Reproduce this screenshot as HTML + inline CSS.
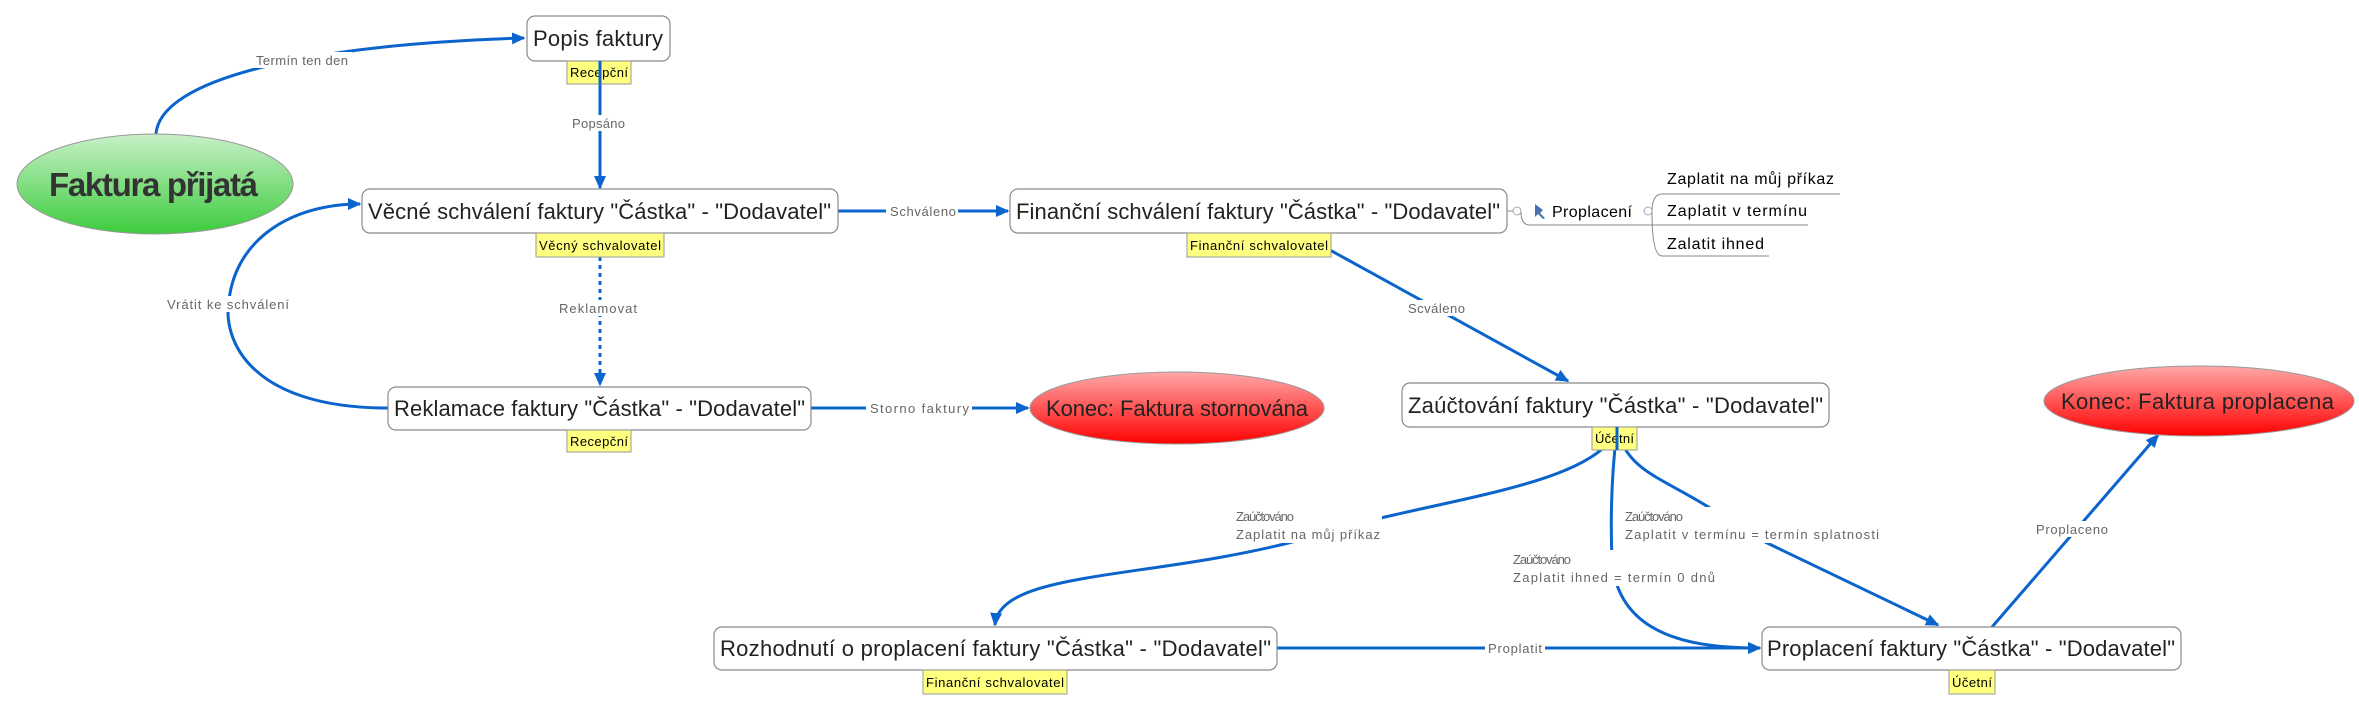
<!DOCTYPE html>
<html><head><meta charset="utf-8"><style>
html,body{margin:0;padding:0;background:#fff;width:2359px;height:710px;overflow:hidden}
svg{display:block}
.n{font-family:"Liberation Sans",sans-serif;font-size:22px;fill:#222}
.r{font-family:"Liberation Sans",sans-serif;font-size:13px;fill:#000}
.l{font-family:"Liberation Sans",sans-serif;font-size:13px;fill:#666}
.box{fill:#fff;stroke:#8a8a8a;stroke-width:1.2}
.role{fill:#ffff80;stroke:#999;stroke-width:1}
.c{fill:none;stroke:#0a64cc;stroke-width:3}
</style></head><body>
<svg width="2359" height="710" viewBox="0 0 2359 710" xmlns="http://www.w3.org/2000/svg">
<defs>
<marker id="a" markerWidth="4.5" markerHeight="4" refX="4" refY="2" orient="auto" markerUnits="strokeWidth"><path d="M0,0 L4.5,2 L0,4 z" fill="#0a64cc"/></marker>
<linearGradient id="g" x1="0" y1="0" x2="0" y2="1"><stop offset="0" stop-color="#c8f0c8"/><stop offset="1" stop-color="#3ccc3c"/></linearGradient>
<linearGradient id="rd" x1="0" y1="0" x2="0" y2="1"><stop offset="0" stop-color="#ffa8a8"/><stop offset="1" stop-color="#ff0000"/></linearGradient>
</defs>

<!-- connectors -->
<path class="c" d="M156,134 C160,80 300,45 524,38" marker-end="url(#a)"/>
<path class="c" d="M600,61 L600,188" marker-end="url(#a)"/>
<path class="c" d="M600,257 L600,385" stroke-dasharray="4,4" stroke-width="2.5" marker-end="url(#a)"/>
<path class="c" d="M388,408 C250,408 222,340 229,300 C236,240 290,204 360,204" marker-end="url(#a)"/>
<path class="c" d="M838,211 L1008,211" marker-end="url(#a)"/>
<path class="c" d="M811,408 L1028,408" marker-end="url(#a)"/>
<path class="c" d="M1299,233 L1568,381" marker-end="url(#a)"/>
<path class="c" d="M1617,430 C1590,490 1420,500 1300,540 C1150,580 1000,570 995,625" marker-end="url(#a)"/>
<path class="c" d="M1617,430 C1612,470 1610,510 1612,560 C1618,640 1700,648 1760,648" marker-end="url(#a)"/>
<path class="c" d="M1617,430 C1630,480 1680,480 1740,530 L1938,625" marker-end="url(#a)"/>
<path class="c" d="M1277,648 L1760,648" marker-end="url(#a)"/>
<path class="c" d="M1992,627 L2158,435" marker-end="url(#a)"/>

<!-- Proplacení branch -->
<g fill="none" stroke="#888" stroke-width="1">
<line x1="1507" y1="211" x2="1515" y2="211"/>
<path d="M1521,212 Q1521,225 1530,225 L1652,225"/>
<path d="M1652,212 Q1652,194 1662,194 L1840,194"/>
<line x1="1652" y1="225" x2="1808" y2="225"/>
<path d="M1652,212 Q1652,256 1662,256 L1769,256"/>
</g>
<circle cx="1517" cy="211" r="4" fill="#fff" stroke="#9ab" />
<circle cx="1648" cy="211" r="4" fill="#fff" stroke="#9ab"/>
<path d="M1535,204 l8,6 l-3,3 l5,5 l-2,1 l-5,-5 l-3,3 z" fill="#4a70b0"/>
<text class="r" x="1552" y="217" style="font-size:16px" textLength="80">Proplacení</text>
<text class="r" x="1667" y="184" style="font-size:16px" textLength="167">Zaplatit na můj příkaz</text>
<text class="r" x="1667" y="216" style="font-size:16px" textLength="140">Zaplatit v termínu</text>
<text class="r" x="1667" y="249" style="font-size:16px" textLength="97">Zalatit ihned</text>

<!-- edge labels -->
<g>
<rect x="252" y="52" width="100" height="16" fill="#fff"/><text class="l" x="256" y="65" textLength="92">Termín ten den</text>
<rect x="568" y="115" width="60" height="16" fill="#fff"/><text class="l" x="572" y="128" textLength="53">Popsáno</text>
<rect x="556" y="300" width="84" height="16" fill="#fff"/><text class="l" x="559" y="313" textLength="78">Reklamovat</text>
<rect x="164" y="296" width="128" height="16" fill="#fff"/><text class="l" x="167" y="309" textLength="122">Vrátit ke schválení</text>
<rect x="886" y="203" width="72" height="16" fill="#fff"/><text class="l" x="890" y="216" textLength="66">Schváleno</text>
<rect x="866" y="400" width="106" height="16" fill="#fff"/><text class="l" x="870" y="413" textLength="99">Storno faktury</text>
<rect x="1404" y="300" width="64" height="16" fill="#fff"/><text class="l" x="1408" y="313" textLength="57">Scváleno</text>
<rect x="1232" y="507" width="150" height="36" fill="#fff"/><text class="l" x="1236" y="521" textLength="58">Zaúčtováno</text><text class="l" x="1236" y="539" textLength="144">Zaplatit na můj příkaz</text>
<rect x="1621" y="507" width="262" height="36" fill="#fff"/><text class="l" x="1625" y="521" textLength="58">Zaúčtováno</text><text class="l" x="1625" y="539" textLength="254">Zaplatit v termínu = termín splatnosti</text>
<rect x="1509" y="550" width="210" height="36" fill="#fff"/><text class="l" x="1513" y="564" textLength="58">Zaúčtováno</text><text class="l" x="1513" y="582" textLength="202">Zaplatit ihned = termín 0 dnů</text>
<rect x="1485" y="640" width="60" height="16" fill="#fff"/><text class="l" x="1488" y="653" textLength="54">Proplatit</text>
<rect x="2032" y="521" width="80" height="16" fill="#fff"/><text class="l" x="2036" y="534" textLength="72">Proplaceno</text>
</g>

<!-- ellipses -->
<ellipse cx="155" cy="184" rx="138" ry="50" fill="url(#g)" stroke="#999"/>
<text x="49" y="196" font-family="Liberation Sans,sans-serif" font-size="33" font-weight="bold" fill="#333" textLength="209">Faktura přijatá</text>
<ellipse cx="1177" cy="408" rx="147" ry="36" fill="url(#rd)" stroke="#999"/>
<text class="n" x="1046" y="416" textLength="262">Konec: Faktura stornována</text>
<ellipse cx="2199" cy="401" rx="155" ry="35" fill="url(#rd)" stroke="#999"/>
<text class="n" x="2061" y="409" textLength="273">Konec: Faktura proplacena</text>

<!-- boxes -->
<rect class="box" x="527" y="16" width="143" height="45" rx="8"/>
<text class="n" x="533" y="46" textLength="130">Popis faktury</text>
<rect class="box" x="362" y="189" width="476" height="44" rx="8"/>
<text class="n" x="368" y="219" textLength="463">Věcné schválení faktury "Částka" - "Dodavatel"</text>
<rect class="box" x="388" y="387" width="423" height="43" rx="8"/>
<text class="n" x="394" y="416" textLength="411">Reklamace faktury "Částka" - "Dodavatel"</text>
<rect class="box" x="1010" y="189" width="497" height="44" rx="8"/>
<text class="n" x="1016" y="219" textLength="484">Finanční schválení faktury "Částka" - "Dodavatel"</text>
<rect class="box" x="1402" y="383" width="427" height="44" rx="8"/>
<text class="n" x="1408" y="413" textLength="415">Zaúčtování faktury "Částka" - "Dodavatel"</text>
<rect class="box" x="714" y="627" width="563" height="43" rx="8"/>
<text class="n" x="720" y="656" textLength="551">Rozhodnutí o proplacení faktury "Částka" - "Dodavatel"</text>
<rect class="box" x="1762" y="627" width="419" height="43" rx="8"/>
<text class="n" x="1767" y="656" textLength="408">Proplacení faktury "Částka" - "Dodavatel"</text>

<!-- roles -->
<rect class="role" x="567" y="61" width="64" height="23"/><text class="r" x="570" y="77" textLength="58">Recepční</text>
<rect class="role" x="536" y="233" width="128" height="24"/><text class="r" x="539" y="250" textLength="122">Věcný schvalovatel</text>
<rect class="role" x="567" y="430" width="64" height="22"/><text class="r" x="570" y="446" textLength="58">Recepční</text>
<rect class="role" x="1187" y="233" width="144" height="24"/><text class="r" x="1190" y="250" textLength="138">Finanční schvalovatel</text>
<rect class="role" x="1592" y="427" width="45" height="23"/><text class="r" x="1595" y="443" textLength="39">Účetní</text>
<rect class="role" x="923" y="670" width="144" height="24"/><text class="r" x="926" y="687" textLength="138">Finanční schvalovatel</text>
<rect class="role" x="1949" y="670" width="46" height="24"/><text class="r" x="1952" y="687" textLength="40">Účetní</text>
<path d="M600,61 L600,84 M1617,427 L1617,450" stroke="#0a64cc" stroke-width="3"/>
</svg>
</body></html>
